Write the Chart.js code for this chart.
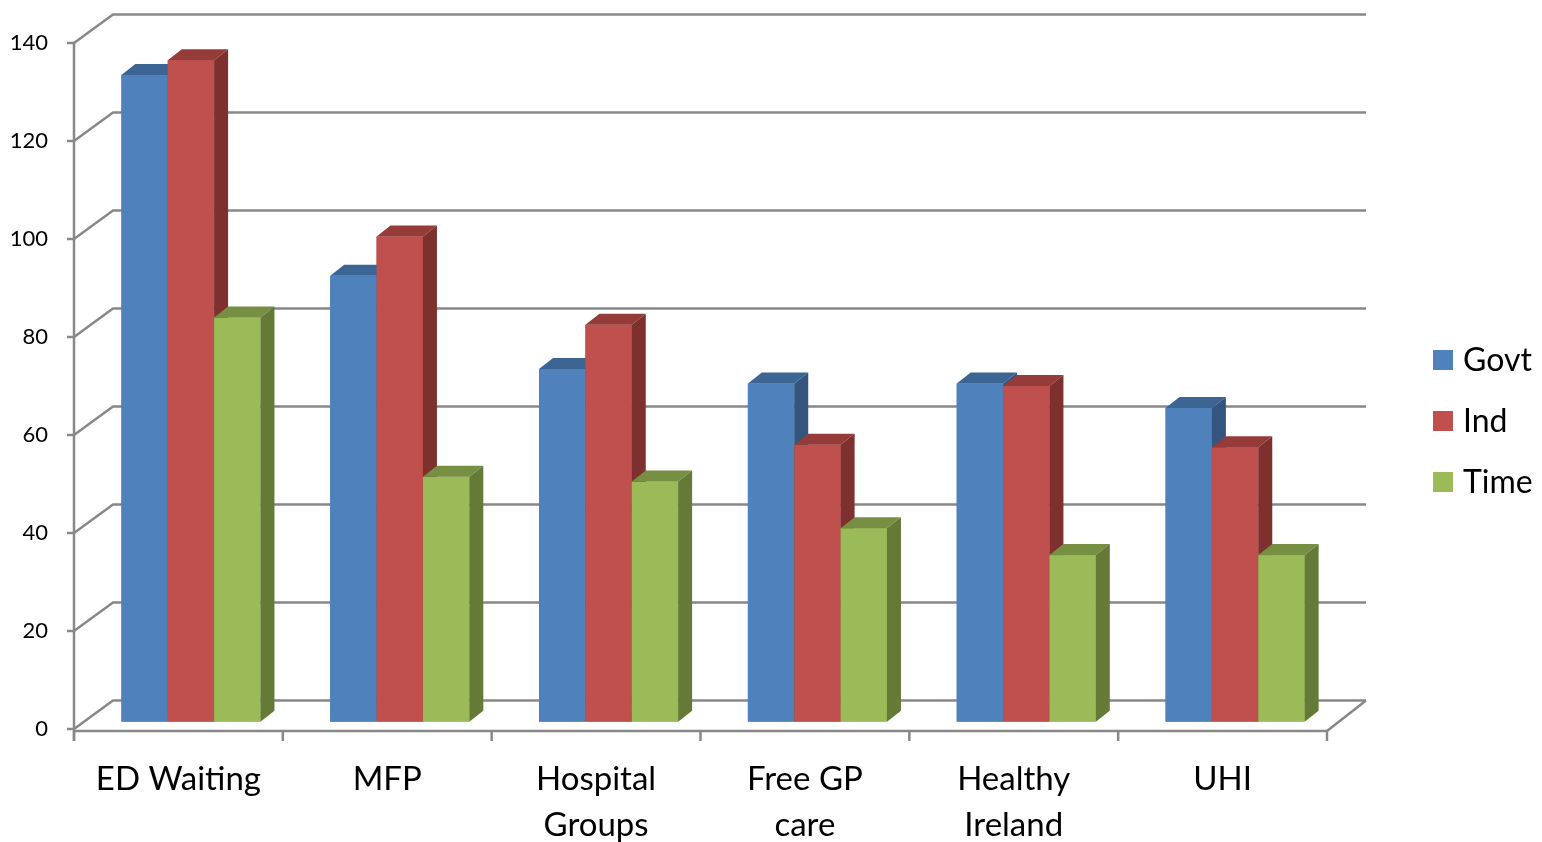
<!DOCTYPE html>
<html>
<head>
<meta charset="utf-8">
<script src="https://cdn.jsdelivr.net/npm/chart.js@4/dist/chart.umd.min.js"></script>
<style>
html,body{margin:0;padding:0;background:#fff;}
#c{display:block;}
</style>
</head>
<body>
<canvas id="c" width="1542" height="842"></canvas>
<script>
// ---- data ----
const categories = [["ED Waiting"], ["MFP"], ["Hospital", "Groups"], ["Free GP", "care"], ["Healthy", "Ireland"], ["UHI"]];
const seriesNames = ["Govt", "Ind", "Time"];
const govt = [132, 91, 72, 69, 69, 64];
const ind = [135, 99, 81, 56.5, 68.5, 56];
const time = [82.5, 50, 49, 39.5, 34, 34];
const yTicks = [0, 20, 40, 60, 80, 100, 120, 140];

// ---- styles ----
const frontColors = ["#4F81BD", "#C0504D", "#9BBB59"];
const topColors = ["#3C6593", "#953B39", "#778F42"];
const sideColors = ["#34557E", "#7D302E", "#657A37"];
const gridColor = "#888888";
const FONT = "Lato, 'Open Sans', sans-serif";

// 3D geometry (relative to bar plane)
const FX = -12.5, FY = 7.3;   // front plane offset
const BX = 26.5, BY = -21.3;  // back plane offset
const DX = 14, DY = -11;      // bar depth

const threeD = {
  id: "threeD",
  beforeDatasetsDraw(chart) {
    const {ctx, chartArea: a, scales: {x, y}} = chart;
    ctx.save();
    ctx.strokeStyle = gridColor;
    ctx.lineWidth = 2.5;
    ctx.lineCap = "butt";
    yTicks.forEach(v => {
      const yp = y.getPixelForValue(v);
      ctx.beginPath();
      ctx.moveTo(a.left + FX, yp + FY);
      ctx.lineTo(a.left + BX, yp + BY);
      ctx.lineTo(a.right + BX, yp + BY);
      ctx.stroke();
      ctx.beginPath();
      ctx.moveTo(a.left + FX - 7, yp + FY);
      ctx.lineTo(a.left + FX, yp + FY);
      ctx.stroke();
    });
    const y0 = y.getPixelForValue(0);
    const floorY = y0 + FY + 2;
    ctx.beginPath();
    ctx.moveTo(a.left + FX, y.getPixelForValue(140) + FY);
    ctx.lineTo(a.left + FX, floorY + 10);
    ctx.stroke();
    ctx.beginPath();
    ctx.moveTo(a.left + FX, floorY);
    ctx.lineTo(a.right + FX, floorY);
    ctx.lineTo(a.right + BX, y0 + BY);
    ctx.stroke();
    const cw = a.width / categories.length;
    for (let i = 0; i <= categories.length; i++) {
      const xi = a.left + FX + i * cw;
      ctx.beginPath();
      ctx.moveTo(xi, floorY);
      ctx.lineTo(xi, floorY + 10);
      ctx.stroke();
    }
    ctx.fillStyle = "#000";
    ctx.font = "22px " + FONT;
    ctx.textAlign = "right";
    ctx.textBaseline = "middle";
    yTicks.forEach(v => {
      ctx.fillText(String(v), a.left + FX - 26, y.getPixelForValue(v) + FY);
    });
    ctx.font = "33px " + FONT;
    ctx.textAlign = "center";
    ctx.textBaseline = "alphabetic";
    categories.forEach((lines, i) => {
      const cx = x.getPixelForValue(i) + FX;
      lines.forEach((t, k) => ctx.fillText(t, cx, 790 + k * 46));
    });
    ctx.restore();
  },
  afterDatasetsDraw(chart) {
    const {ctx} = chart;
    ctx.save();
    const metas = chart.data.datasets.map((d, i) => chart.getDatasetMeta(i));
    categories.forEach((c, ci) => {
      metas.forEach((meta, di) => {
        const el = meta.data[ci];
        const p = el.getProps(["x", "y", "base", "width"], true);
        const l = p.x - p.width / 2, r = p.x + p.width / 2;
        // front face
        ctx.fillStyle = frontColors[di];
        ctx.fillRect(l, p.y, r - l, p.base - p.y);
        // top face
        ctx.fillStyle = topColors[di];
        ctx.beginPath();
        ctx.moveTo(l, p.y);
        ctx.lineTo(l + DX, p.y + DY);
        ctx.lineTo(r + DX, p.y + DY);
        ctx.lineTo(r, p.y);
        ctx.closePath();
        ctx.fill();
        // side face
        ctx.fillStyle = sideColors[di];
        ctx.beginPath();
        ctx.moveTo(r, p.y);
        ctx.lineTo(r + DX, p.y + DY);
        ctx.lineTo(r + DX, p.base + DY);
        ctx.lineTo(r, p.base);
        ctx.closePath();
        ctx.fill();
      });
    });
    ctx.restore();
  },
  afterDraw(chart) {
    const {ctx} = chart;
    ctx.save();
    ctx.font = "32px " + FONT;
    ctx.textAlign = "left";
    ctx.textBaseline = "middle";
    seriesNames.forEach((n, i) => {
      const cy = 360 + i * 61;
      ctx.fillStyle = frontColors[i];
      ctx.fillRect(1433, cy - 10, 20, 20);
      ctx.fillStyle = "#000";
      ctx.fillText(n, 1463, cy + 1);
    });
    ctx.restore();
  }
};

new Chart(document.getElementById("c"), {
  type: "bar",
  data: {
    labels: categories.map(c => c.join(" ")),
    datasets: [
      {label: seriesNames[0], data: govt, backgroundColor: frontColors[0]},
      {label: seriesNames[1], data: ind, backgroundColor: frontColors[1]},
      {label: seriesNames[2], data: time, backgroundColor: frontColors[2]}
    ]
  },
  options: {
    responsive: false,
    animation: false,
    layout: {padding: {left: 86.5, right: 202.5, top: 35.7, bottom: 120.3}},
    datasets: {bar: {barPercentage: 1, categoryPercentage: 0.666, borderWidth: 0}},
    plugins: {legend: {display: false}, tooltip: {enabled: false}},
    scales: {
      x: {display: false},
      y: {display: false, min: 0, max: 140}
    }
  },
  plugins: [threeD]
});
</script>
</body>
</html>
